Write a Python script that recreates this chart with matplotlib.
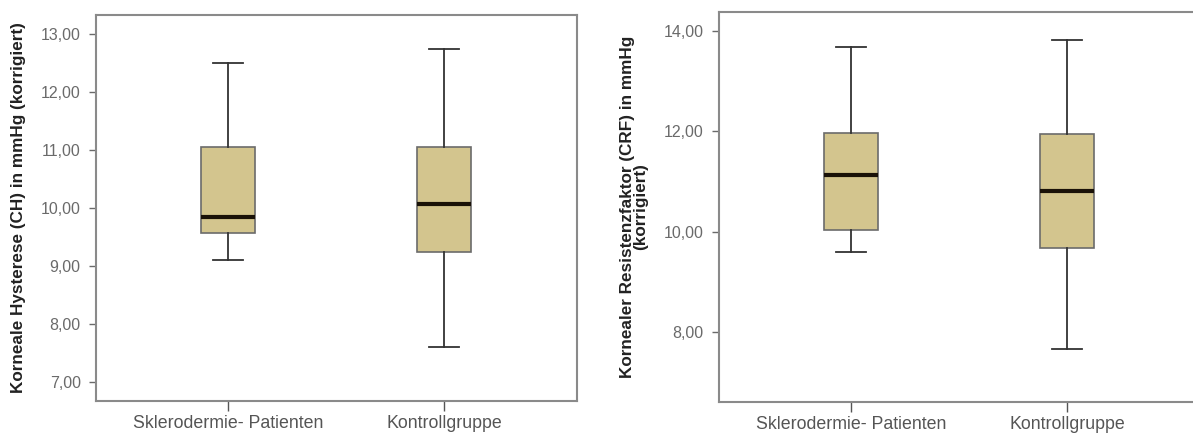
import matplotlib
matplotlib.use("Agg")
import matplotlib.pyplot as plt

groups = ["Sklerodermie- Patienten", "Kontrollgruppe"]

# Panel 1: Korneale Hysterese (CH)
ch_whislo = [9.10, 7.60]
ch_q1 = [9.57, 9.23]
ch_med = [9.84, 10.07]
ch_q3 = [11.05, 11.04]
ch_whishi = [12.50, 12.73]
ch_ticks = [7, 8, 9, 10, 11, 12, 13]

# Panel 2: Kornealer Resistenzfaktor (CRF)
crf_whislo = [9.60, 7.66]
crf_q1 = [10.04, 9.67]
crf_med = [11.13, 10.81]
crf_q3 = [11.97, 11.94]
crf_whishi = [13.68, 13.83]
crf_ticks = [8, 10, 12, 14]

plt.rcParams['font.family'] = ['Liberation Sans', 'DejaVu Sans']

fig = plt.figure(figsize=(11.93, 4.36), dpi=100)
W, H = 1193, 436


def make_stats(lo, q1, med, q3, hi):
    return [dict(whislo=lo[i], q1=q1[i], med=med[i], q3=q3[i], whishi=hi[i],
                 fliers=[], label=groups[i]) for i in range(len(lo))]


def panel(rect, stats, ticks, ylim, xlim, ylabel, width, label_x):
    l, t, r, b = rect
    ax = fig.add_axes([l / W, 1 - b / H, (r - l) / W, (b - t) / H])
    ax.bxp(stats, positions=[1, 2], widths=width, patch_artist=True,
           showfliers=False,
           boxprops=dict(facecolor="#D3C58E", edgecolor="#6b6b6b", linewidth=1.2),
           medianprops=dict(color="#1a1208", linewidth=3),
           whiskerprops=dict(color="#333333", linewidth=1.3),
           capprops=dict(color="#333333", linewidth=1.3),
           capwidths=width * 0.55)
    ax.set_ylim(*ylim)
    ax.set_xlim(*xlim)
    ax.set_yticks(ticks)
    ax.set_yticklabels([f"{v:.2f}".replace(".", ",") for v in ticks])
    ax.set_xticks([1, 2])
    ax.set_xticklabels(groups)
    for s in ax.spines.values():
        s.set_color("#8a8a8a")
        s.set_linewidth(1.5)
    ax.tick_params(axis="y", colors="#6a6a6a", labelsize=11.5, length=5, width=1, pad=6,
                   labelcolor="#6a6a6a")
    ax.tick_params(axis="x", colors="#555555", labelsize=12.8, length=7, width=1, pad=3,
                   labelcolor="#555555")
    ax.set_ylabel(ylabel, fontsize=12.3, fontweight="bold", color="#222222",
                  linespacing=0.85)
    ax.yaxis.label.set_verticalalignment("center")
    ax.yaxis.set_label_coords((label_x - l) / (r - l), 0.5)
    return ax


panel((96, 15, 577, 401),
      make_stats(ch_whislo, ch_q1, ch_med, ch_q3, ch_whishi),
      ch_ticks, (6.67, 13.32), (0.391, 2.613),
      "Korneale Hysterese (CH) in mmHg (korrigiert)", 0.25, 19)

panel((719, 12, 1200, 402),
      make_stats(crf_whislo, crf_q1, crf_med, crf_q3, crf_whishi),
      crf_ticks, (6.60, 14.38), (0.391, 2.613),
      "Kornealer Resistenzfaktor (CRF) in mmHg\n(korrigiert)", 0.25, 634)

fig.savefig("out.png", dpi=100)
